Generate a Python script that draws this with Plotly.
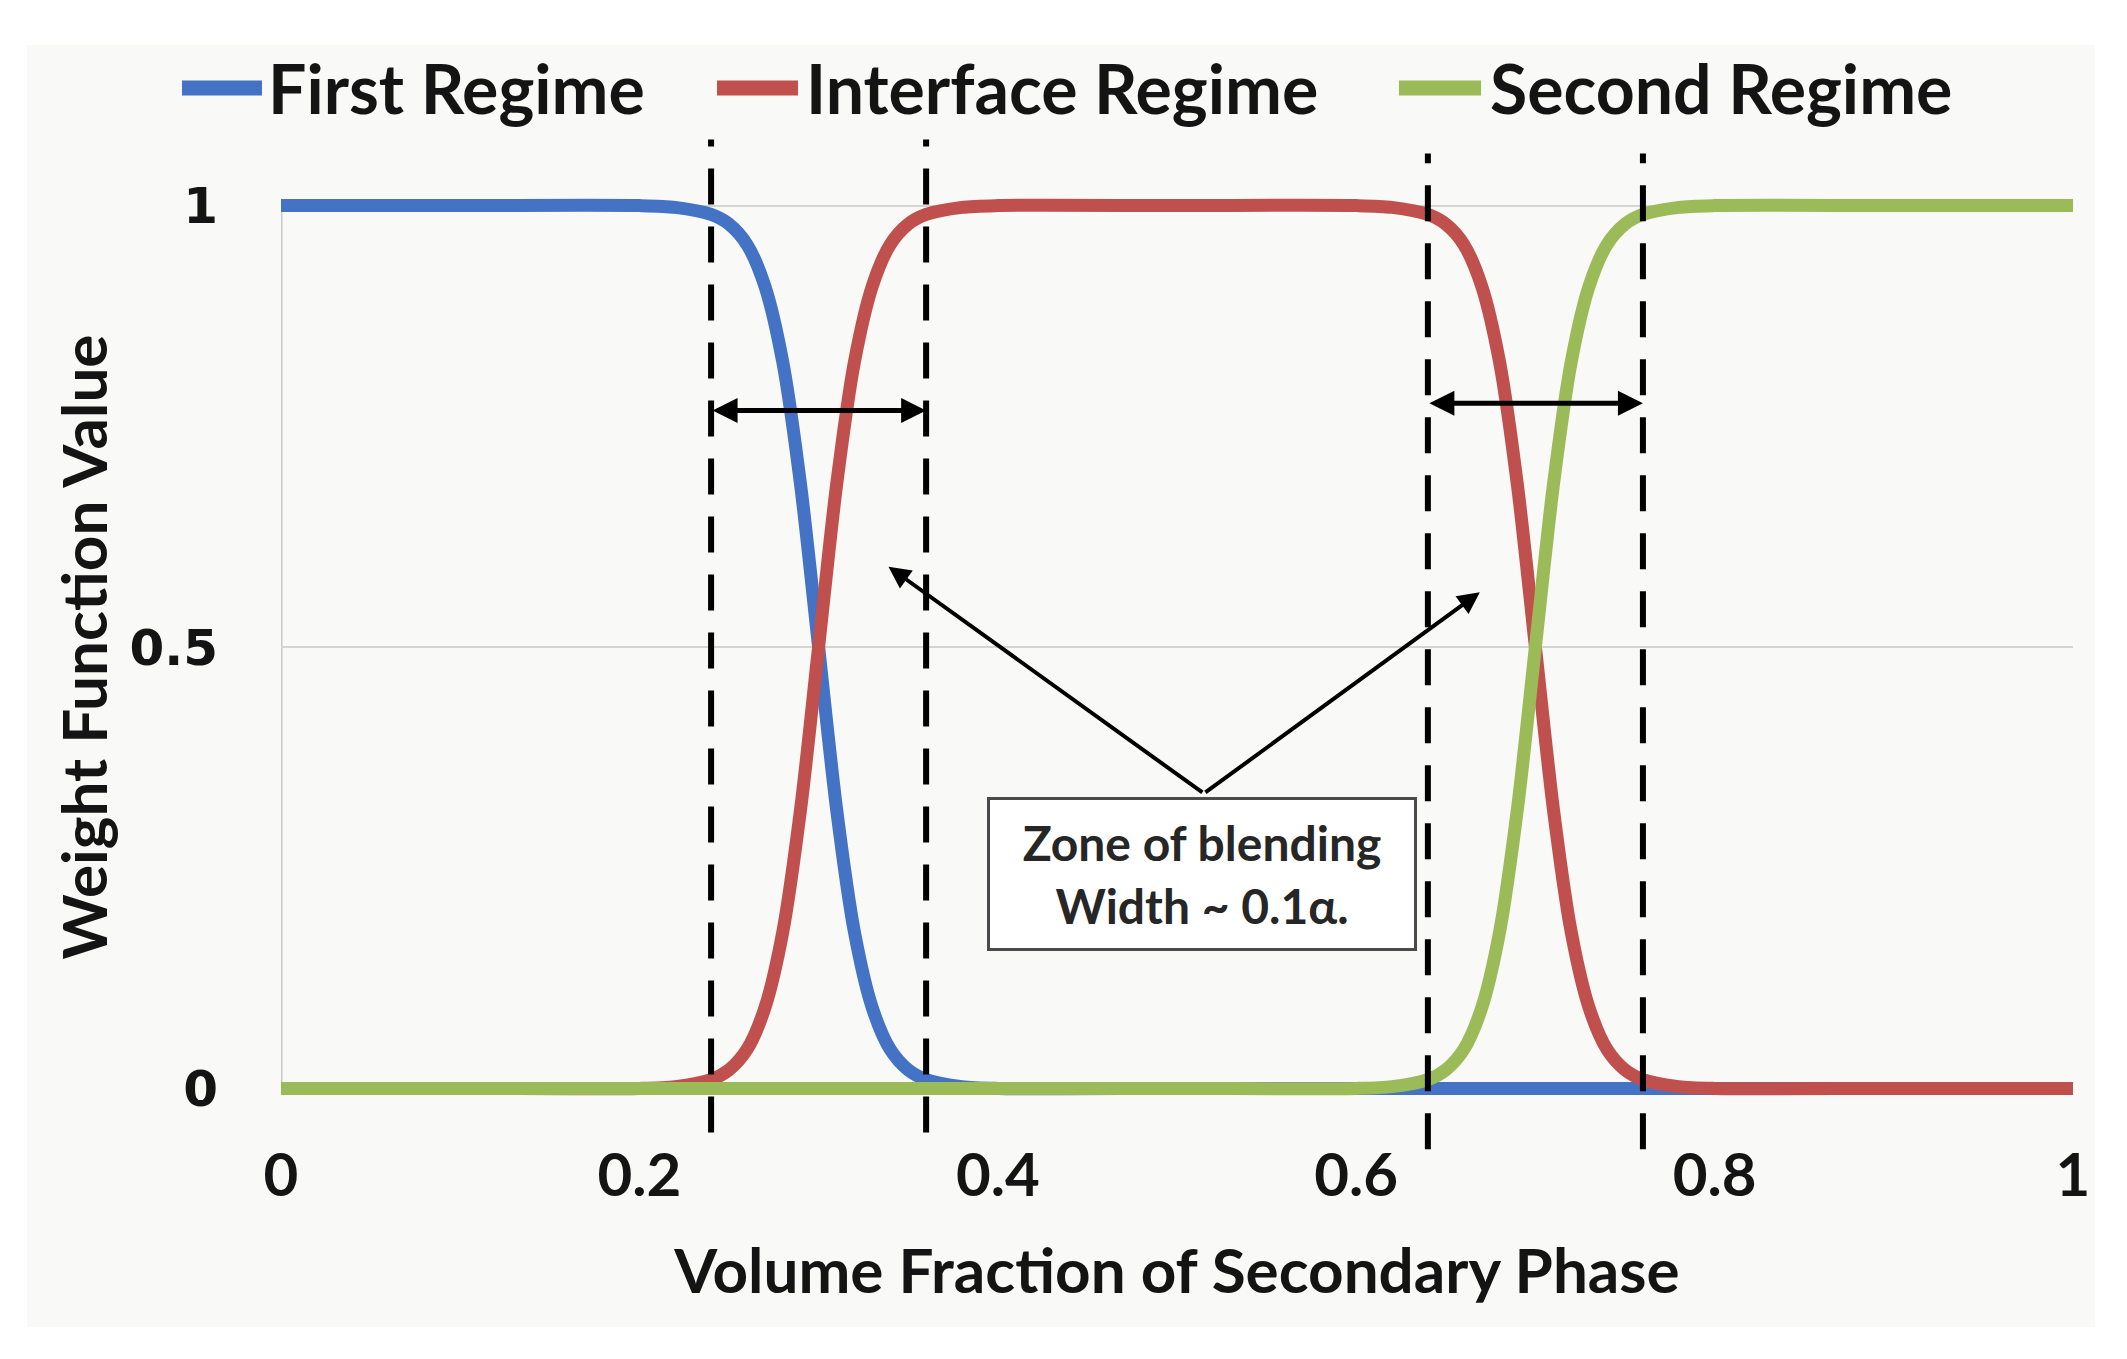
import plotly.graph_objects as go

# ---------------- data ----------------
x_vals = [0.0, 0.1, 0.2, 0.22, 0.24, 0.25, 0.26, 0.27, 0.28, 0.29, 0.30,
          0.31, 0.32, 0.33, 0.34, 0.35, 0.36, 0.38, 0.40, 0.5, 0.6, 0.62,
          0.64, 0.65, 0.66, 0.67, 0.68, 0.69, 0.70, 0.71, 0.72, 0.73, 0.74,
          0.75, 0.76, 0.78, 0.80, 0.9, 1.0]

first_regime = [1.0, 1.0, 1.0, 0.998, 0.99, 0.979, 0.956, 0.909, 0.823, 0.683, 0.5,
                0.317, 0.177, 0.091, 0.044, 0.021, 0.01, 0.002, 0.0, 0.0, 0.0, 0.0,
                0.0, 0.0, 0.0, 0.0, 0.0, 0.0, 0.0, 0.0, 0.0, 0.0, 0.0,
                0.0, 0.0, 0.0, 0.0, 0.0, 0.0]

interface_regime = [0.0, 0.0, 0.0, 0.002, 0.01, 0.021, 0.044, 0.091, 0.177, 0.317, 0.5,
                    0.683, 0.823, 0.909, 0.956, 0.979, 0.99, 0.998, 1.0, 1.0, 1.0, 0.998,
                    0.99, 0.979, 0.956, 0.909, 0.823, 0.683, 0.5, 0.317, 0.177, 0.091, 0.044,
                    0.021, 0.01, 0.002, 0.0, 0.0, 0.0]

second_regime = [0.0, 0.0, 0.0, 0.0, 0.0, 0.0, 0.0, 0.0, 0.0, 0.0, 0.0,
                 0.0, 0.0, 0.0, 0.0, 0.0, 0.0, 0.0, 0.0, 0.0, 0.0, 0.002,
                 0.01, 0.021, 0.044, 0.091, 0.177, 0.317, 0.5, 0.683, 0.823, 0.909, 0.956,
                 0.979, 0.99, 0.998, 1.0, 1.0, 1.0]

series_names = ["First Regime", "Interface Regime", "Second Regime"]
series_colors = ["#4472C4", "#C0504D", "#9BBB59"]

blend_bounds = [0.24, 0.36, 0.64, 0.76]          # dashed lines
dash_top = [1.075, 1.075, 1.059, 1.059]          # dashed line extents (y units)
dash_bottom = [-0.05, -0.05, -0.069, -0.069]
width_arrow_y = [0.768, 0.776]                   # double-headed arrows
box_anchor = (0.515, 0.334)                      # arrows start at top of the text box
arrow_tips = [(0.339, 0.591), (0.669, 0.562)]

x_ticks = [0, 0.2, 0.4, 0.6, 0.8, 1]
x_tick_text = ["0", "0.2", "0.4", "0.6", "0.8", "1"]
y_ticks = [0, 0.5, 1]
y_tick_text = ["0", "0.5", "1"]

box_lines = ["Zone of blending", "Width ~ 0.1α."]

# ---------------- figure ----------------
Y_MIN, Y_MAX = -0.012, 1.012
OFF = 8                      # page body margin
W, H = 2111, 1343
M_L, M_R, M_T, M_B = 273, 46, 187, 252
PW, PH = W - M_L - M_R, H - M_T - M_B
TXT = "#141414"
BG = "#f9faf7"


def to_paper_y(v):
    return (v - Y_MIN) / (Y_MAX - Y_MIN)


def px_to_paper_x(px):       # page pixel -> paper x
    return (px - OFF - M_L) / PW


def px_to_paper_y(py):       # page pixel -> paper y
    return (OFF + M_T + PH - py) / PH


fig = go.Figure()
for name, col, ys in zip(series_names, series_colors,
                         [first_regime, interface_regime, second_regime]):
    fig.add_trace(go.Scatter(
        x=x_vals, y=ys, name=name, mode="lines", showlegend=False,
        line=dict(color=col, width=13, shape="spline", smoothing=0.8),
    ))

shapes = []
# light chart-area background
shapes.append(dict(type="rect", xref="paper", yref="paper", layer="below",
                   x0=px_to_paper_x(27), x1=px_to_paper_x(2095),
                   y0=px_to_paper_y(1327), y1=px_to_paper_y(45),
                   fillcolor=BG, line=dict(width=0)))
# y axis line from 0 to 1
shapes.append(dict(type="line", xref="x", yref="y", x0=0, x1=0, y0=0, y1=1,
                   layer="below", line=dict(color="#c8c8c8", width=3)))
# dashed vertical boundaries
for xb, yt, yb in zip(blend_bounds, dash_top, dash_bottom):
    shapes.append(dict(type="line", xref="x", yref="paper", x0=xb, x1=xb,
                       y0=to_paper_y(yb), y1=to_paper_y(yt), layer="above",
                       line=dict(color="black", width=6, dash="36px,22px")))

annotations = []
# manual legend (swatch + label), built from the series
legend_swatch_px = [(182, 262), (717, 798), (1399, 1481)]
legend_text_px = [266, 804, 1488]
legend_y_px = 88
for name, col, (s0, s1), tx in zip(series_names, series_colors, legend_swatch_px, legend_text_px):
    shapes.append(dict(type="line", xref="paper", yref="paper",
                       x0=px_to_paper_x(s0), x1=px_to_paper_x(s1),
                       y0=px_to_paper_y(legend_y_px), y1=px_to_paper_y(legend_y_px),
                       line=dict(color=col, width=15)))
    annotations.append(dict(x=px_to_paper_x(tx), y=px_to_paper_y(legend_y_px),
                            xref="paper", yref="paper", xanchor="left", yanchor="middle",
                            showarrow=False, text=name,
                            font=dict(family="Lato", size=68, color=TXT, weight="bold")))

# double-headed width arrows
for (xa, xb), ya in zip([(blend_bounds[0], blend_bounds[1]),
                         (blend_bounds[2], blend_bounds[3])], width_arrow_y):
    annotations.append(dict(x=xb, y=ya, ax=xa, ay=ya, xref="x", yref="y",
                            axref="x", ayref="y", text="", showarrow=True,
                            arrowside="end+start", arrowhead=2, arrowsize=1.0,
                            arrowwidth=5, arrowcolor="black"))
# diagonal arrows from box
for tx, ty in arrow_tips:
    annotations.append(dict(x=tx, y=ty, ax=box_anchor[0], ay=box_anchor[1],
                            xref="x", yref="y", axref="x", ayref="y", text="",
                            showarrow=True, arrowhead=2, arrowsize=1.1,
                            arrowwidth=4, arrowcolor="black"))
# text box
annotations.append(dict(x=0.514, y=0.243, xref="x", yref="y", showarrow=False,
                        text="<br>".join(box_lines), align="center",
                        width=424, height=148, bgcolor="white",
                        bordercolor="#4a4a4a", borderwidth=3, borderpad=0,
                        font=dict(family="Lato", size=48, color="#262626", weight="bold")))

fig.update_layout(
    width=W, height=H,
    margin=dict(l=M_L, r=M_R, t=M_T, b=M_B, autoexpand=False),
    paper_bgcolor="white", plot_bgcolor="rgba(0,0,0,0)",
    shapes=shapes, annotations=annotations,
    showlegend=False,
    xaxis=dict(range=[0, 1], tickvals=x_ticks, ticktext=x_tick_text,
               showgrid=False, zeroline=False, showline=False, ticks="",
               ticklabelstandoff=36,
               tickfont=dict(family="Lato", size=60, color=TXT, weight="bold"),
               title=dict(text="Volume Fraction of Secondary Phase", standoff=41,
                          font=dict(family="Lato", size=62, color=TXT, weight="bold"))),
    yaxis=dict(range=[Y_MIN, Y_MAX], tickvals=y_ticks, ticktext=y_tick_text,
               showgrid=True, gridcolor="#d4d4d4", gridwidth=2, zeroline=False,
               showline=False, ticks="", ticklabelstandoff=62,
               tickfont=dict(family="DejaVu Sans", size=50, color=TXT, weight="bold"),
               title=dict(text="Weight Function Value", standoff=1,
                          font=dict(family="Lato", size=62, color=TXT, weight="bold"))),
)

fig.write_html("out.html")
